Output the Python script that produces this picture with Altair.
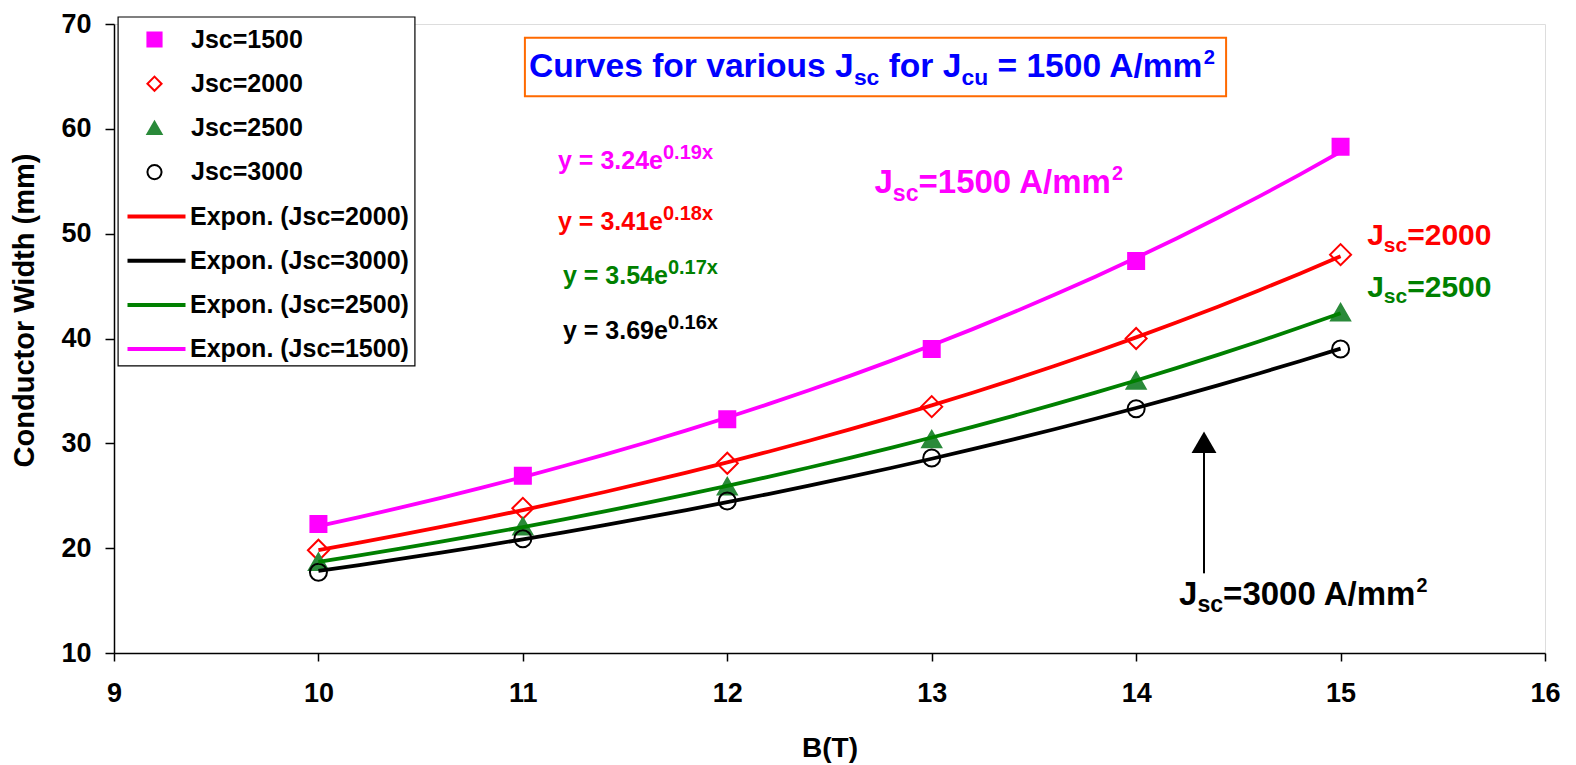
import altair as alt
import pandas as pd

# ---------------- data ----------------
B_vals = [10, 11, 12, 13, 14, 15]
w_1500 = [22.3, 26.9, 32.3, 39.0, 47.4, 58.3]
w_2000 = [19.8, 23.8, 28.1, 33.5, 40.0, 48.0]
w_2500 = [18.7, 22.1, 25.9, 30.4, 36.0, 42.5]
w_3000 = [17.7, 20.9, 24.5, 28.6, 33.3, 39.0]

series_names = ["Jsc=1500", "Jsc=2000", "Jsc=2500", "Jsc=3000"]
fit_names = ["Expon. (Jsc=2000)", "Expon. (Jsc=3000)", "Expon. (Jsc=2500)", "Expon. (Jsc=1500)"]
x_ticks = [9, 10, 11, 12, 13, 14, 15, 16]
y_ticks = [10, 20, 30, 40, 50, 60, 70]

FONT = "Liberation Sans, Arial, sans-serif"
MAGENTA, RED, GREEN, BLACK = "#FF00FF", "#FF0000", "#008000", "#000000"
GREEN_MK = "#2A8A3A"

rows = []
for name, vals in zip(series_names, [w_1500, w_2000, w_2500, w_3000]):
    for b, w in zip(B_vals, vals):
        rows.append({"B": b, "W": w, "series": name, "fit": "Expon. (" + name + ")"})
df = pd.DataFrame(rows)

PW, PH = 1431, 629

xs = alt.Scale(domain=[9, 16], nice=False, zero=False)
ys = alt.Scale(domain=[10, 70], nice=False, zero=False)

x_axis = alt.Axis(values=x_ticks, format="d", title="B(T)", grid=False, labelFont=FONT,
                  labelFontSize=27, labelFontWeight="bold", labelColor="black", labelPadding=19,
                  tickSize=8, tickColor="black", tickWidth=1.5, domainColor="black", domainWidth=1.5,
                  titleFont=FONT, titleFontSize=28, titleFontWeight="bold", titleColor="black",
                  titlePadding=28, labelFlush=False)
y_axis = alt.Axis(values=y_ticks, format="d", title="Conductor Width (mm)", grid=False,
                  labelFont=FONT, labelFontSize=27, labelFontWeight="bold", labelColor="black",
                  labelPadding=14, tickSize=9, tickColor="black", tickWidth=1.5,
                  domainColor="black", domainWidth=1.5, titleFont=FONT, titleFontSize=29,
                  titleFontWeight="bold", titleColor="black", titlePadding=21, titleY=286,
                  labelFlush=False)

pt_legend = alt.Legend(title=None, orient="none", legendX=28, legendY=3, padding=0,
                       labelFont=FONT, labelFontSize=25, labelFontWeight="bold", labelColor="black",
                       labelLimit=400, symbolSize=200, symbolStrokeWidth=2, rowPadding=18.2,
                       labelOffset=24, symbolOffset=0)

shape_enc = alt.Shape("series:N", scale=alt.Scale(domain=series_names,
                      range=["square", "diamond", "triangle-up", "circle"]), legend=pt_legend)
fill_enc = alt.Fill("series:N", scale=alt.Scale(domain=series_names,
                    range=[MAGENTA, "transparent", GREEN_MK, "transparent"]), legend=pt_legend)
stroke_enc = alt.Stroke("series:N", scale=alt.Scale(domain=series_names,
                        range=[MAGENTA, RED, GREEN_MK, BLACK]), legend=pt_legend)

# marker size per series (style only)
marker_size = {"Jsc=1500": 256, "Jsc=2000": 441, "Jsc=2500": 361, "Jsc=3000": 289}

point_layers = []
for name in series_names:
    point_layers.append(
        alt.Chart(df).transform_filter(alt.datum.series == name)
        .mark_point(strokeWidth=2, opacity=1, size=marker_size[name]).encode(
            x=alt.X("B:Q", scale=xs, axis=x_axis),
            y=alt.Y("W:Q", scale=ys, axis=y_axis),
            shape=shape_enc, fill=fill_enc, stroke=stroke_enc))

ln_legend = alt.Legend(title=None, orient="none", legendX=30, legendY=180, padding=0,
                       labelFont=FONT, labelFontSize=25, labelFontWeight="bold", labelColor="black",
                       labelLimit=400, symbolType="M-2.9,0H2.9", symbolSize=400,
                       symbolStrokeWidth=4, rowPadding=18.2, labelOffset=21, symbolOffset=0)

lines = alt.Chart(df).transform_regression("B", "W", method="exp", groupby=["fit"]).mark_line(
    strokeWidth=3.8).encode(
    x=alt.X("B:Q", scale=xs, axis=x_axis),
    y=alt.Y("W:Q", scale=ys, axis=y_axis),
    color=alt.Color("fit:N", scale=alt.Scale(domain=fit_names, range=[RED, BLACK, GREEN, MAGENTA]),
                    legend=ln_legend),
)

one = pd.DataFrame({"k": [0]})

legend_box = [9.02, 10.472, 70.67, 37.38]
title_box = [11.01, 14.44, 68.68, 63.11]

leg_frame = alt.Chart(one).mark_rect(fill="white", stroke="black", strokeWidth=1.2).encode(
    x=alt.X(datum=legend_box[0], scale=xs, axis=x_axis), x2=alt.datum(legend_box[1]),
    y=alt.Y(datum=legend_box[2], scale=ys, axis=y_axis), y2=alt.datum(legend_box[3]))
tit_frame = alt.Chart(one).mark_rect(fill="white", stroke="#FF6A00", strokeWidth=2).encode(
    x=alt.X(datum=title_box[0], scale=xs, axis=x_axis), x2=alt.datum(title_box[1]),
    y=alt.Y(datum=title_box[2], scale=ys, axis=y_axis), y2=alt.datum(title_box[3]))

# Arial-bold advance widths (per 1000 em) for laying out rich-text pieces
AW = {' ': 278, '(': 333, ')': 333, '.': 278, '/': 278, '=': 584, 'A': 722, 'B': 722,
      'C': 722, 'J': 556, 'T': 611, 'W': 944, 'E': 667, 'a': 556, 'c': 556, 'd': 611, 'e': 556,
      'f': 333, 'h': 611, 'i': 278, 'm': 889, 'n': 611, 'o': 611, 'p': 611, 'r': 389, 's': 556,
      't': 333, 'u': 611, 'v': 556, 'x': 556, 'y': 556}


def tw(s, fs):
    return sum(AW.get(ch, 556) for ch in s) * fs / 1000.0


def rich(segs, x, y, fs, color, sub=0.68, sup=0.68, supdy=0.40):
    out = []
    off = 0.0
    for txt, kind in segs:
        if kind == "sub":
            f, dy = fs * sub, fs * 0.22
        elif kind == "sup":
            f, dy = fs * sup, -fs * supdy
        else:
            f, dy = fs, 0
        lead = len(txt) - len(txt.lstrip(" "))
        trail = len(txt) - len(txt.rstrip(" "))
        core = txt.strip(" ")
        off += tw(" " * lead, f)
        out.append(alt.Chart(one).mark_text(text=core, align="left", baseline="alphabetic", dx=off,
                                            dy=dy, fontSize=f, font=FONT, fontWeight="bold",
                                            color=color).encode(
            x=alt.X(datum=x, scale=xs, axis=x_axis), y=alt.Y(datum=y, scale=ys, axis=y_axis)))
        off += tw(core, f) + tw(" " * trail, f)
    return out


# annotations: (segments, x, y, font size, colour, sub ratio, sup ratio)
annotations = [
    ([("Curves for various J", "n"), ("sc", "sub"), (" for J", "n"), ("cu", "sub"),
      (" = 1500 A/mm", "n"), ("2", "sup")], 11.03, 64.9, 33.6, "#0000FF", 0.68, 0.6),
    ([("y = 3.24e", "n"), ("0.19x", "sup")], 11.172, 56.17, 25, MAGENTA, 0.68, 0.8),
    ([("y = 3.41e", "n"), ("0.18x", "sup")], 11.172, 50.38, 25, RED, 0.68, 0.8),
    ([("y = 3.54e", "n"), ("0.17x", "sup")], 11.196, 45.2, 25, GREEN, 0.68, 0.8),
    ([("y = 3.69e", "n"), ("0.16x", "sup")], 11.196, 39.95, 25, BLACK, 0.68, 0.8),
    ([("J", "n"), ("sc", "sub"), ("=1500 A/mm", "n"), ("2", "sup")], 12.72, 53.85, 33, MAGENTA,
     0.7, 0.6),
    ([("J", "n"), ("sc", "sub"), ("=2000", "n")], 15.13, 48.9, 30, RED, 0.7, 0.6),
    ([("J", "n"), ("sc", "sub"), ("=2500", "n")], 15.13, 44.0, 30, GREEN, 0.7, 0.6),
    ([("J", "n"), ("sc", "sub"), ("=3000 A/mm", "n"), ("2", "sup")], 14.21, 14.6, 33, BLACK,
     0.7, 0.6),
]

ann_layers = []
for segs, ax, ay, fs, col, rsub, rsup in annotations:
    ann_layers += rich(segs, ax, ay, fs, col, rsub, rsup)

# arrow pointing at the Jsc=3000 curve
arrow_x = 14.332
arrow_y0, arrow_y1, arrow_head = 17.6, 29.4, 30.1
arrow_shaft = alt.Chart(one).mark_rule(color="black", strokeWidth=2).encode(
    x=alt.X(datum=arrow_x, scale=xs, axis=x_axis), y=alt.Y(datum=arrow_y0, scale=ys, axis=y_axis),
    y2=alt.datum(arrow_y1))
arrow_tip = alt.Chart(one).mark_point(shape="triangle-up", filled=True, color="black", size=620,
                                      opacity=1).encode(
    x=alt.X(datum=arrow_x, scale=xs, axis=x_axis), y=alt.Y(datum=arrow_head, scale=ys, axis=y_axis))

chart = alt.layer(
    tit_frame, leg_frame, *point_layers, lines, arrow_shaft, arrow_tip, *ann_layers
).properties(
    width=PW, height=PH,
    autosize=alt.AutoSizeParams(type="none"),
    padding={"left": 106, "top": 16, "right": 23, "bottom": 112},
).configure_view(stroke="#808080", strokeWidth=2).configure(background="white")

chart.save("out.html", embed_options={"renderer": "svg", "actions": False})
